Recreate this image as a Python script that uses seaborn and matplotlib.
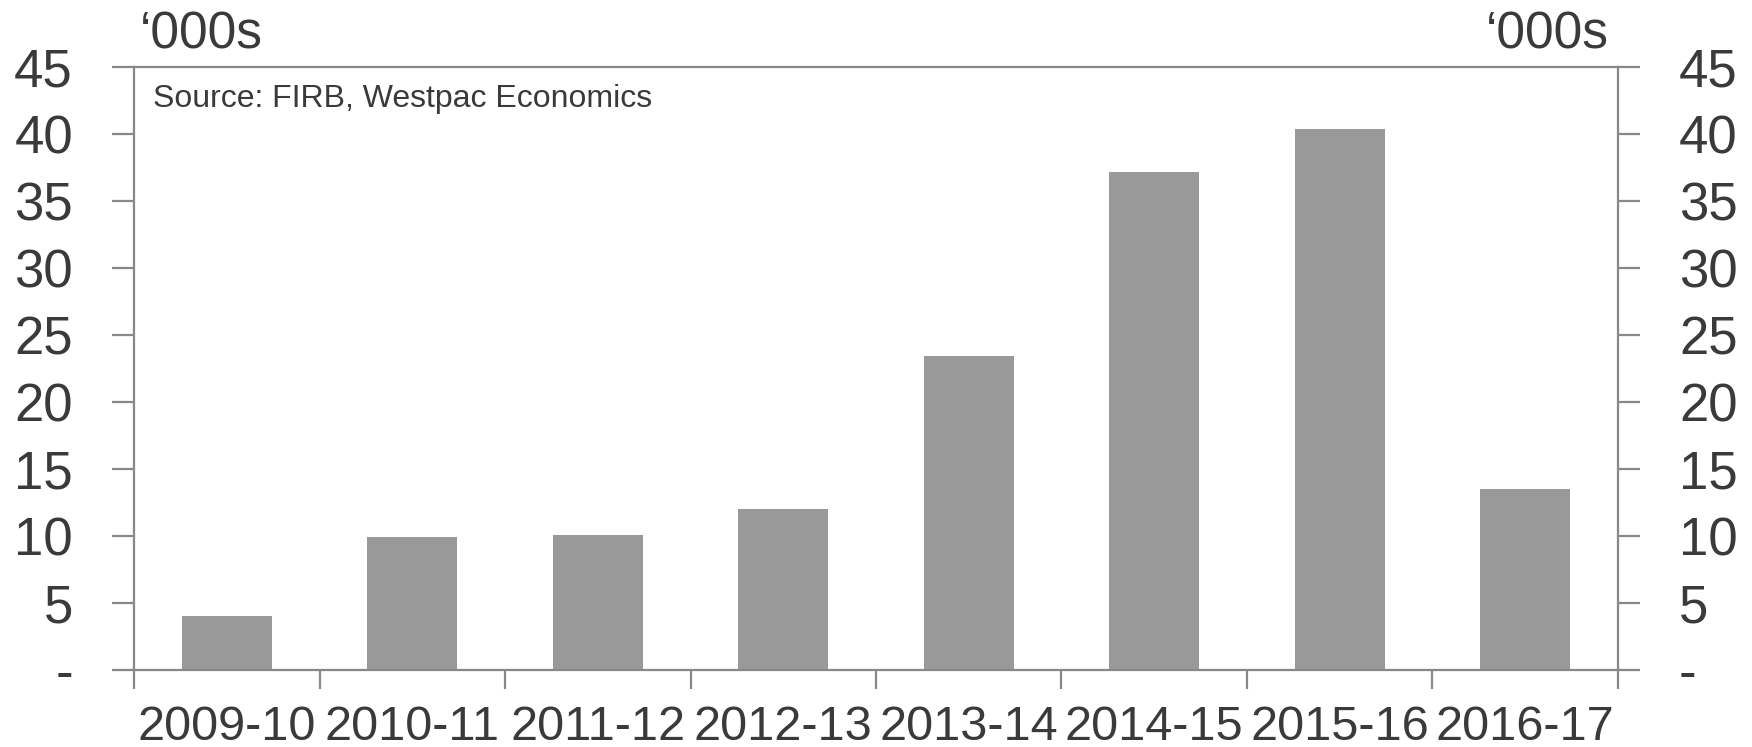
import matplotlib
matplotlib.use("Agg")
import matplotlib.pyplot as plt
import seaborn as sns
import pandas as pd
import numpy as np

# Foreign investment approvals for residential real estate, thousands
years = ["2009-10", "2010-11", "2011-12", "2012-13",
         "2013-14", "2014-15", "2015-16", "2016-17"]
approvals = [4.0, 9.9, 10.1, 12.0, 23.4, 37.2, 40.4, 13.5]

y_ticks = [0, 5, 10, 15, 20, 25, 30, 35, 40, 45]
y_tick_labels = ["-", "5", "10", "15", "20", "25", "30", "35", "40", "45"]

unit_label = "\u2018000s"
source_note = "Source: FIRB, Westpac Economics"

df = pd.DataFrame({"year": years, "approvals": approvals})

sns.set_style("white")
plt.rcParams["font.family"] = ["Liberation Sans", "DejaVu Sans"]

text_color = "#3a3a3a"
axis_color = "#888888"
bar_color = "#999999"

fig = plt.figure(figsize=(17.52, 7.47), dpi=100)
ax = fig.add_axes([0.0765, 0.1031, 0.8470, 0.8072])

sns.barplot(data=df, x="year", y="approvals", color=bar_color,
            saturation=1, width=0.485, ax=ax, edgecolor="none")

ax.set_xlim(-0.5, len(years) - 0.5)
ax.set_ylim(0, 45)
ax.set_xlabel("")
ax.set_ylabel("")

for side in ["left", "right", "top", "bottom"]:
    ax.spines[side].set_visible(True)
    ax.spines[side].set_color(axis_color)
    ax.spines[side].set_linewidth(1.6)

# y axis: labels on both sides, ticks outward
ax.set_yticks(y_ticks)
ax.set_yticklabels(y_tick_labels)
ax.tick_params(axis="y", which="major", left=True, right=True,
               labelleft=True, labelright=True, direction="out",
               length=16, width=1.6, color=axis_color, pad=28,
               labelsize=38, labelcolor=text_color)

# x axis: labels at category centres, ticks at category boundaries
ax.set_xticks(np.arange(len(years)))
ax.set_xticklabels(years)
ax.set_xticks(np.arange(len(years) + 1) - 0.5, minor=True)
ax.tick_params(axis="x", which="major", length=0, pad=25,
               labelsize=35, labelcolor=text_color)
ax.tick_params(axis="x", which="minor", bottom=True, direction="out",
               length=14, width=1.6, color=axis_color)

ax.text(0.004, 1.012, unit_label, transform=ax.transAxes, ha="left",
        va="bottom", fontsize=37, color=text_color)
ax.text(0.994, 1.012, unit_label, transform=ax.transAxes, ha="right",
        va="bottom", fontsize=37, color=text_color)
ax.text(0.0125, 0.972, source_note, transform=ax.transAxes, ha="left",
        va="top", fontsize=23, color=text_color)

fig.savefig("out.png", dpi=100)
